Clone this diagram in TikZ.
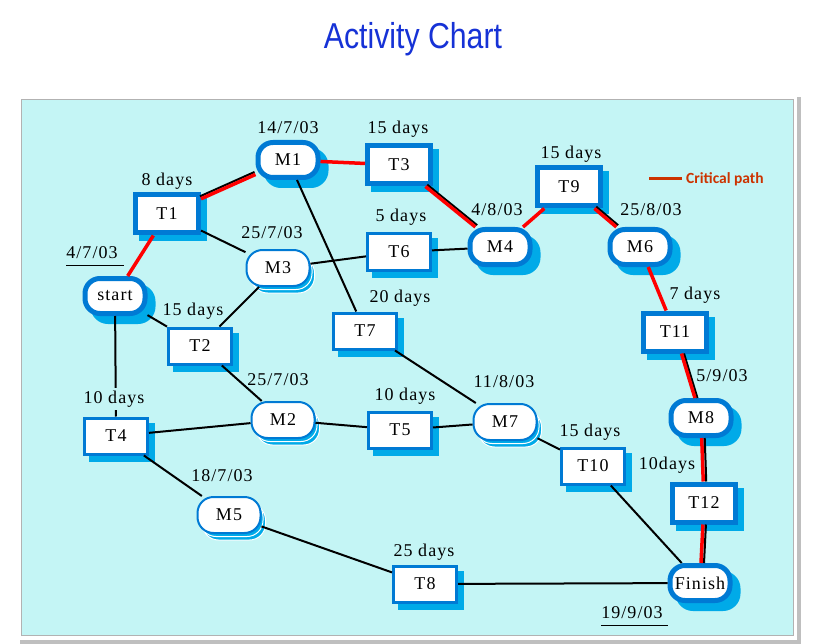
\documentclass[tikz,border=0pt]{standalone}
\usepackage{fontspec}
\setmainfont{Liberation Serif}
\newfontfamily\titlefont{Liberation Sans}
\newfontfamily\legfont{Carlito}
\newfontfamily\labfont[LetterSpace=6]{Liberation Serif}
\usetikzlibrary{shadows}
\definecolor{bgcyan}{RGB}{196,245,245}
\definecolor{bordblue}{RGB}{0,122,212}
\definecolor{shadblue}{RGB}{0,170,232}
\definecolor{titleblue}{RGB}{22,50,214}
\definecolor{legred}{RGB}{204,51,0}
\definecolor{critred}{RGB}{255,0,0}
\begin{document}
\begin{tikzpicture}[x=1pt,y=-1pt,
  txt/.style={font=\labfont\fontsize{18}{18}\selectfont, inner sep=0pt},
  tbox/.style={txt, draw=bordblue, fill=white, line width=5pt,
    minimum width=63pt, minimum height=38pt,
    general shadow={shadow xshift=6pt, shadow yshift=-6pt, fill=shadblue, draw=shadblue}},
  tboxthin/.style={txt, draw=bordblue, fill=white, line width=3pt,
    minimum width=63pt, minimum height=36pt,
    general shadow={shadow xshift=6pt, shadow yshift=-6pt, fill=shadblue, draw=shadblue}},
  msthick/.style={txt, draw=bordblue, fill=white, line width=5pt, rounded corners=15pt,
    minimum width=60pt, minimum height=35pt,
    general shadow={shadow xshift=8pt, shadow yshift=-8pt, fill=shadblue, draw=shadblue}},
  msthin/.style={txt, draw=bordblue, fill=white, line width=2pt, rounded corners=16pt,
    minimum width=63pt, minimum height=36pt,
    general shadow={shadow xshift=5pt, shadow yshift=-7pt, fill=shadblue, draw=white, line width=1pt},
    general shadow={shadow xshift=2.5pt, shadow yshift=-3.5pt, fill=shadblue, draw=white, line width=1pt}},
  lab/.style={txt, text=black},
  ln/.style={line width=2pt, black},
  crit/.style={line width=3.5pt, critred},
  uline/.style={line width=1.5pt, black}
]
\useasboundingbox (0,0) rectangle (813,644);
% panel
\fill[black!25] (20,97) rectangle (801,644);
\fill[white] (17,94) rectangle (797,640);
\fill[bgcyan] (21,99) rectangle (793,636);
\draw[black!30, line width=1pt] (21.5,636) -- (21.5,99.5) -- (793,99.5);
\draw[black!30, line width=1pt] (21.5,635.5) -- (793,635.5) -- (793,99.5);
% title
\node[anchor=base, text=titleblue, inner sep=0pt] (title) at (413,49)
  {\scalebox{0.84}[1]{\titlefont\fontsize{36}{36}\selectfont Activity Chart}};
% legend
\coordinate (lg1) at (649,179);
\coordinate (lg2) at (682,179);
\draw[line width=3pt, legred] (lg1) -- (lg2);
\node[anchor=west, inner sep=0pt, text=legred, font=\legfont\bfseries\fontsize{15.5}{16}\selectfont] (legtxt) at (686,179) {Critical path};
% nodes
\node[msthick] (start) at (115,296) {start};
\node[tbox] (T1) at (167,214) {T1};
\node[msthick] (M1) at (288,160) {M1};
\node[tbox] (T3) at (399,165) {T3};
\node[msthin] (M3) at (278,268) {M3};
\node[tboxthin] (T6) at (399,252) {T6};
\node[msthick] (M4) at (500,247) {M4};
\node[tbox] (T9) at (569,187) {T9};
\node[msthick] (M6) at (640,247) {M6};
\node[tbox] (T11) at (675,332) {T11};
\node[msthick] (M8) at (701,418) {M8};
\node[tbox] (T12) at (704,503) {T12};
\node[msthick] (Fin) at (700,583) {Finish};
\node[tboxthin] (T2) at (200,346) {T2};
\node[tboxthin] (T7) at (365,331) {T7};
\node[tboxthin] (T4) at (116,436) {T4};
\node[msthin] (M2) at (283,420) {M2};
\node[tboxthin] (T5) at (400,430) {T5};
\node[msthin] (M7) at (505,422) {M7};
\node[tboxthin] (T10) at (593,466) {T10};
\node[msthin] (M5) at (229,515) {M5};
\node[tboxthin] (T8) at (425,584) {T8};
% labels
\node[lab] (l1) at (288,128) {14/7/03};
\node[lab] (l2) at (167,181) {8 days};
\node[lab] (l3) at (92,253) {4/7/03};
\node[lab] (l4) at (272,233) {25/7/03};
\node[lab] (l5) at (193,311) {15 days};
\node[lab] (l6) at (398,129) {15 days};
\node[lab] (l7) at (571,154) {15 days};
\node[lab] (l8) at (401,217) {5 days};
\node[lab] (l9) at (497,210) {4/8/03};
\node[lab] (l10) at (651,210) {25/8/03};
\node[lab] (l11) at (400,298) {20 days};
\node[lab] (l12) at (695,295) {7 days};
\node[lab] (l14) at (278,380) {25/7/03};
\node[lab] (l15) at (222,476) {18/7/03};
\node[lab] (l16) at (405,396) {10 days};
\node[lab] (l17) at (504,382) {11/8/03};
\node[lab] (l18) at (590,432) {15 days};
\node[lab] (l19) at (722,376) {5/9/03};
\node[lab] (l20) at (667,465) {10days};
\node[lab] (l21) at (424,552) {25 days};
\node[lab] (l22) at (632,613) {19/9/03};
\draw[uline] ([yshift=-6pt]l3.south west) -- ([xshift=6pt,yshift=-6pt]l3.south east);
\draw[uline] ([yshift=-6pt]l22.south west) -- ([xshift=5pt,yshift=-6pt]l22.south east);
% plain connectors
\draw[ln] (start) -- (T4);
\draw[ln] (start) -- (T2);
\draw[ln] (T1) -- (M3);
\draw[ln] (M3) -- (T2);
\draw[ln] (M3) -- (T6);
\draw[ln] (T6) -- (M4);
\draw[ln] (M1) -- (T7);
\draw[ln] (T7) -- (M7);
\draw[ln] (T2) -- (M2);
\draw[ln] (T4) -- (M2);
\draw[ln] (M2) -- (T5);
\draw[ln] (T5) -- (M7);
\draw[ln] (M7) -- (T10);
\draw[ln] (T10) -- (Fin);
\draw[ln] (T4) -- (M5);
\draw[ln] (M5) -- (T8);
\draw[ln] (T8) -- (Fin);
% label over the start-T4 line
\node[lab, fill=bgcyan, inner ysep=3pt, inner xsep=1pt] (l13) at (114,399) {10 days};
% critical path (black companions first)
\draw[ln, transform canvas={shift={(-1pt,2.5pt)}}] (T1) -- (M1);
\draw[ln, transform canvas={shift={(1.8pt,1.8pt)}}] (T3) -- (M4);
\draw[ln, transform canvas={shift={(1.8pt,1.8pt)}}] (T9) -- (M6);
\draw[ln, transform canvas={shift={(2.5pt,0pt)}}] (T11) -- (M8);
\draw[ln, transform canvas={shift={(3pt,0pt)}}] (M8) -- (T12);
\draw[ln, transform canvas={shift={(3pt,0pt)}}] (T12) -- (Fin);
\draw[crit] (start) -- (T1);
\draw[crit] (T1) -- (M1);
\draw[crit] (M1) -- (T3);
\draw[crit] (T3) -- (M4);
\draw[crit] (M4) -- (T9);
\draw[crit] (T9) -- (M6);
\draw[crit] (M6) -- (T11);
\draw[crit] (T11) -- (M8);
\draw[crit] (M8) -- (T12);
\draw[crit] (T12) -- (Fin);
\end{tikzpicture}
\end{document}
